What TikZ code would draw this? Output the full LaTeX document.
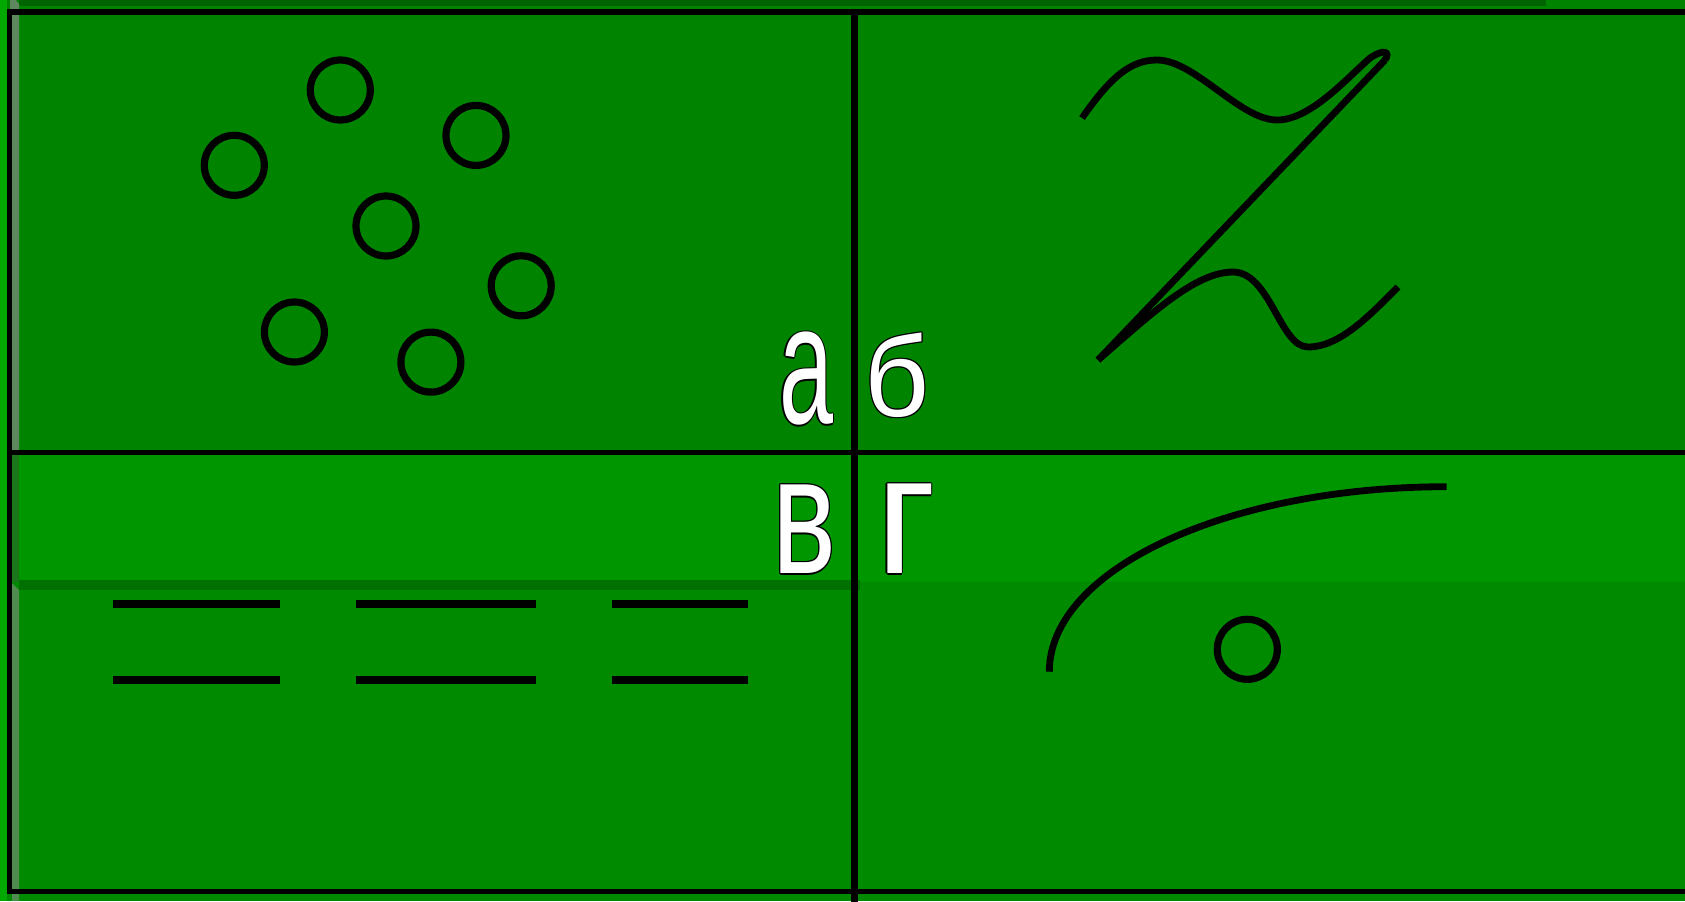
\documentclass[tikz,border=0pt]{standalone}
\usepackage{fontspec}
\newfontfamily\lsans{Liberation Sans}
\definecolor{brightg}{RGB}{0,168,0}
\definecolor{topg}{RGB}{0,132,0}
\definecolor{midg}{RGB}{0,150,0}
\definecolor{botg}{RGB}{0,138,0}
\definecolor{shadeA}{RGB}{0,100,0}
\definecolor{shadeB}{RGB}{0,112,0}
\definecolor{stripT}{RGB}{95,135,95}
\definecolor{stripM}{RGB}{28,118,28}
\definecolor{stripB}{RGB}{80,140,80}
% white letter with a thin black outline
\newcommand\olbox[1]{%
  \setbox0=\hbox{#1}%
  \hbox{\color{black}%
    \rlap{\kern0.6pt\copy0}\rlap{\kern-0.6pt\copy0}%
    \rlap{\raise0.6pt\copy0}\rlap{\lower0.6pt\copy0}%
    \rlap{\kern0.45pt\raise0.45pt\copy0}\rlap{\kern-0.45pt\raise0.45pt\copy0}%
    \rlap{\kern0.45pt\lower0.45pt\copy0}\rlap{\kern-0.45pt\lower0.45pt\copy0}%
    \color{white}\copy0}}
\tikzset{
  ring/.style={circle, draw=black, line width=3.6pt, minimum size=30pt, inner sep=0pt},
  frameline/.style={draw=black, line width=2.8pt},
  stroke/.style={draw=black, line width=3.4pt, line cap=butt},
  letter/.style={inner sep=0pt, outer sep=0pt}
}
\begin{document}
\begin{tikzpicture}[x=0.5pt,y=-0.5pt]
\useasboundingbox (0,0) rectangle (1685,901);
\clip (0,0) rectangle (1685,901);
% backgrounds
\fill[brightg] (0,0) rectangle (1685,901);
\fill[topg] (7,0) rectangle (1685,452.5);
\fill[midg] (7,452.5) rectangle (1685,582);
\fill[botg] (7,582) rectangle (1685,901);
% shadow strips
\fill[shadeA] (19,0) rectangle (1546,5.5);
\fill[shadeB] (19,580) rectangle (860,589.5);
\fill[stripT] (10,0) -- (16,0) -- (19,4) -- (19,452.5) -- (10,452.5) -- cycle;
\fill[stripM] (12,452.5) rectangle (19,582);
\fill[stripB] (12,583) -- (19,590) -- (19,901) -- (12,901) -- cycle;
% frame
\draw[frameline] (1700,12) -- (9.5,12) -- (9.5,891.5) -- (1700,891.5);
\draw[frameline] (9.5,452.5) -- (1700,452.5);
\draw[draw=black, line width=3.5pt] (854.5,10) -- (854.5,910);
% circles
\node[ring] (c1) at (340.3,90) {};
\node[ring] (c2) at (234.3,165.3) {};
\node[ring] (c3) at (476,135.4) {};
\node[ring] (c4) at (386,226) {};
\node[ring] (c5) at (521.2,285.8) {};
\node[ring] (c6) at (294.4,332) {};
\node[ring] (c7) at (430.9,362.1) {};
\node[ring] (c8) at (1247.3,649.3) {};
% Z figure
\draw[stroke] (1082,118) .. controls (1110,78) and (1130,60) .. (1157,60)
  .. controls (1195,60) and (1240,120) .. (1277,120)
  .. controls (1310,120) and (1345,80) .. (1370,58)
  .. controls (1383,49) and (1391,51) .. (1385,60);
\draw[stroke] (1385,60) -- (1098,360);
\draw[stroke] (1098,360) .. controls (1150,315) and (1195,272) .. (1233,272)
  .. controls (1270,272) and (1280,347) .. (1308,347)
  .. controls (1340,347) and (1370,315) .. (1398,287);
% arc
\draw[stroke] (1049.3,671.7) arc[start angle=180, end angle=270, x radius=397.4, y radius=185];
% dashes
\draw[stroke, line width=3.7pt] (113,604) -- (280,604);
\draw[stroke, line width=3.7pt] (356,604) -- (536,604);
\draw[stroke, line width=3.7pt] (612,604) -- (748,604);
\draw[stroke, line width=3.7pt] (113,680) -- (280,680);
\draw[stroke, line width=3.7pt] (356,680) -- (536,680);
\draw[stroke, line width=3.7pt] (612,680) -- (748,680);
% letters
\node[letter] (la) at (806,379) {\olbox{\resizebox{27pt}{45.8pt}{\lsans а}}};
\node[letter] (lb) at (897,375) {\olbox{\resizebox{32.5pt}{41.8pt}{\lsans б}}};
\node[letter] (lv) at (804.5,529.5) {\olbox{\resizebox{32pt}{44.3pt}{\lsans в}}};
\node[letter] (lg) at (906,529) {\olbox{\resizebox{30pt}{44.8pt}{\lsans г}}};
\end{tikzpicture}
\end{document}
